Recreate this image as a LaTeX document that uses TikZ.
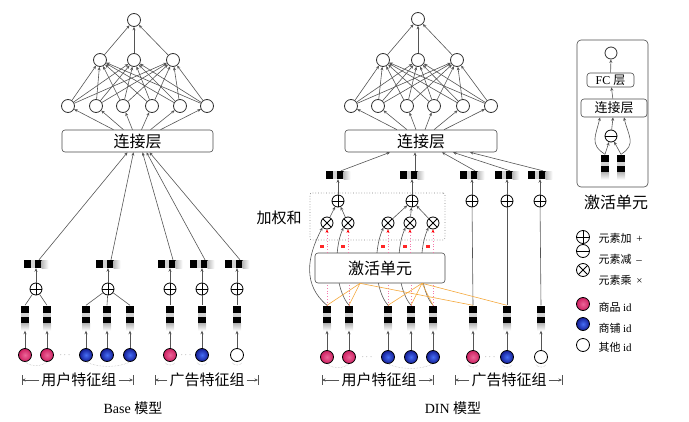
\documentclass[tikz,border=0pt]{standalone}
\usepackage{fontspec}
\setmainfont{Liberation Serif}
\newfontfamily\cjk{Noto Sans CJK SC}
\usetikzlibrary{arrows.meta,calc}
\definecolor{pinkc}{RGB}{228,36,108}
\definecolor{bluein}{RGB}{70,110,245}
\definecolor{blueout}{RGB}{20,30,150}
\definecolor{orangec}{RGB}{244,168,60}
\definecolor{pinkdot}{RGB}{245,120,170}
\definecolor{lnc}{RGB}{85,85,85}
\newcommand\zhf[1]{\cjk\fontsize{#1}{#1}\selectfont}
\begin{document}
\begin{tikzpicture}[x=1pt,y=-1pt,
  ln/.style={draw=lnc, line width=0.6pt},
  arr/.style={ln, -{Stealth[length=3.5pt,width=3pt]}},
  neuron/.style={circle, draw=black!80, line width=0.8pt, minimum size=13pt, inner sep=0pt, fill=white},
  layerbox/.style={rectangle, rounded corners=3pt, draw=black!70, line width=0.6pt, fill=white, inner sep=0pt},
  opbase/.style={circle, draw=black, line width=0.8pt, minimum size=12pt, inner sep=0pt, fill=white},
  oplus/.style={opbase, path picture={\draw[line width=0.8pt] (path picture bounding box.north) -- (path picture bounding box.south) (path picture bounding box.west) -- (path picture bounding box.east);}},
  ominus/.style={opbase, path picture={\draw[line width=0.8pt] (path picture bounding box.west) -- (path picture bounding box.east);}},
  otimes/.style={opbase, path picture={\draw[line width=0.8pt] (path picture bounding box.north west) -- (path picture bounding box.south east) (path picture bounding box.south west) -- (path picture bounding box.north east);}},
  ball/.style={circle, draw=black, line width=0.8pt, minimum size=13pt, inner sep=0pt},
  pinkball/.style={ball, shade, shading=radial, inner color=pinkc!70!white, outer color=pinkc!90!black},
  blueball/.style={ball, shade, shading=radial, inner color=bluein, outer color=blueout},
  whiteball/.style={ball, fill=white},
  hblk/.style={rectangle, minimum width=25pt, minimum height=8pt, inner sep=0pt, path picture={
    \fill[black] (path picture bounding box.south west) rectangle ++(7pt,8pt);
    \fill[gray!35] ([xshift=7pt]path picture bounding box.south west) rectangle ++(4pt,8pt);
    \fill[black] ([xshift=11pt]path picture bounding box.south west) rectangle ++(7pt,8pt);
    \shade[left color=gray!55, right color=white] ([xshift=18pt]path picture bounding box.south west) rectangle ++(7pt,8pt);}},
  vblk/.style={rectangle, minimum width=8pt, minimum height=25pt, inner sep=0pt, path picture={
    \fill[black] (path picture bounding box.north west) rectangle ++(8pt,-7pt);
    \fill[gray!35] ([yshift=-7pt]path picture bounding box.north west) rectangle ++(8pt,-4pt);
    \fill[black] ([yshift=-11pt]path picture bounding box.north west) rectangle ++(8pt,-7pt);
    \shade[top color=gray!55, bottom color=white] ([yshift=-18pt]path picture bounding box.north west) rectangle ++(8pt,-7pt);}},
  arcst/.style={draw=gray!60, line width=0.5pt, densely dotted},
  pdot/.style={draw=pinkdot, line width=0.8pt, dotted},
  orl/.style={draw=orangec, line width=0.6pt},
  wmark/.style={rectangle, fill=red!85, minimum width=4pt, minimum height=3pt, inner sep=0pt},
  lbl/.style={font=\zhf{15}, inner sep=2pt},
  dots/.style={font=\fontsize{9}{9}\selectfont, text=gray, inner sep=0pt}
]
\useasboundingbox (0,0) rectangle (689,421);

%================ Base model =================
\node[neuron] (bo) at (134,20) {};
\foreach \x [count=\i] in {100,134,173} \node[neuron] (bh2-\i) at (\x,60) {};
\foreach \x [count=\i] in {68,96,123,152,180,207} \node[neuron] (bh1-\i) at (\x,106) {};
\node[layerbox, minimum width=151pt, minimum height=22pt, font=\zhf{16}] (bbox) at (137.5,141) {连接层};
\foreach \i in {1,...,6}{\foreach \j in {1,2,3}{\draw[arr] (bh1-\i) -- (bh2-\j);}}
\foreach \j in {1,2,3} \draw[arr] (bh2-\j) -- (bo);
\foreach \i/\dx in {1/-24,2/-14,3/-5,4/4,5/13,6/23} \draw[arr] ([xshift=\dx pt]bbox.north) -- (bh1-\i);

\foreach \x [count=\i] in {36,108,170,202,237}{
  \node[oplus] (bp\i) at (\x,289) {};
  \node[hblk] (bt\i) at (\x,264) {};
  \draw[arr] (bp\i) -- (bt\i);
}
\foreach \i/\dx in {1/-10,2/-4,3/5,4/9,5/12} \draw[arr] ([xshift=3pt]bt\i.north) -- ([xshift=\dx pt]bbox.south);

\foreach \x/\s [count=\i] in {25/pinkball,47/pinkball,86/blueball,107/blueball,130/blueball,170/pinkball,202/blueball,237/whiteball}{
  \node[vblk] (bc\i) at (\x,318) {};
  \node[\s] (bi\i) at (\x,355) {};
  \draw[arr] (bi\i) -- (bc\i);
}
\foreach \p/\c in {1/1,1/2,2/3,2/4,2/5,3/6,4/7,5/8} \draw[ln] (bp\p) -- (bc\c.north);
\node[dots] (bd1) at (65,355) {$\cdots$};
\node[dots] (bd2) at (186,355) {$\cdots$};
\draw[arcst] (bi1.south) .. controls +(6,5) and +(-6,5) .. (bi2.south);
\draw[arcst] (bi3.south) .. controls +(12,6) and +(-12,6) .. (bi5.south);
\foreach \i in {6,7,8} \draw[arcst] ([xshift=-5pt,yshift=-1pt]bi\i.south) .. controls +(3,3) and +(-3,3) .. ([xshift=5pt,yshift=-1pt]bi\i.south);

\coordinate (bl1) at (22,380); \coordinate (br1) at (133,380);
\node[lbl] (bg1) at (79,380) {用户特征组};
\coordinate (bl2) at (155,380); \coordinate (br2) at (258,380);
\node[lbl] (bg2) at (207,380) {广告特征组};
\foreach \k in {1,2}{
  \draw[arr] (bg\k.west) -- (bl\k);
  \draw[arr] (bg\k.east) -- (br\k);
  \draw[ln] ([yshift=5pt]bl\k) -- ([yshift=-5pt]bl\k);
  \draw[ln] ([yshift=5pt]br\k) -- ([yshift=-5pt]br\k);
}
\node[font=\fontsize{14}{14}\selectfont] (btitle) at (133,408) {Base {\zhf{14}模型}};

%================ DIN model =================
\node[neuron] (do) at (418,19) {};
\foreach \x [count=\i] in {383,418,457} \node[neuron] (dh2-\i) at (\x,60) {};
\foreach \x [count=\i] in {351,378,407,434,463,491} \node[neuron] (dh1-\i) at (\x,106) {};
\node[layerbox, minimum width=152pt, minimum height=22pt, font=\zhf{16}] (dbox) at (421,141) {连接层};
\foreach \i in {1,...,6}{\foreach \j in {1,2,3}{\draw[arr] (dh1-\i) -- (dh2-\j);}}
\foreach \j in {1,2,3} \draw[arr] (dh2-\j) -- (do);
\foreach \i/\dx in {1/-24,2/-14,3/-5,4/4,5/13,6/23} \draw[arr] ([xshift=\dx pt]dbox.north) -- (dh1-\i);

\node[draw=gray, dotted, line width=0.7pt, rounded corners=2pt, minimum width=135pt, minimum height=47pt] (dwbox) at (377.5,216.5) {};
\node[font=\zhf{15}] (dwlbl) at (279,218) {加权和};

\foreach \x [count=\i] in {338,412,472,507,540}{
  \node[oplus] (dp\i) at (\x,201) {};
  \node[hblk] (dt\i) at (\x,175) {};
  \draw[arr] (dp\i) -- (dt\i);
}
\foreach \i/\dx in {1/-31,2/-6,3/21,4/32,5/49} \draw[arr] ([xshift=3pt]dt\i.north) -- ([xshift=\dx pt]dbox.south);

\foreach \x [count=\i] in {327,348,388,410,433} \node[otimes] (dm\i) at (\x,223) {};
\foreach \m/\p in {1/1,2/1,3/2,4/2,5/2} \draw[arr] (dm\m) -- (dp\p);

\foreach \x/\s [count=\i] in {327/pinkball,349/pinkball,388/blueball,411/blueball,433/blueball,473/pinkball,507/blueball,541/whiteball}{
  \node[vblk] (dc\i) at (\x,318) {};
  \node[\s] (di\i) at (\x,357) {};
  \draw[arr] (di\i) -- (dc\i);
}
\foreach \p/\c in {3/6,4/7,5/8} \draw[ln] (dp\p) -- (dc\c.north);

% curves from behaviour embeddings to the products
\draw[arr] (dc1.north) .. controls +(-24,-20) and +(-16,30) .. (dm1.south west);
\foreach \i in {2,3,4,5} \draw[arr] (dc\i.north) .. controls +(-14,-16) and +(-10,22) .. (dm\i.south west);

\node[layerbox, minimum width=130pt, minimum height=30pt, font=\zhf{16}] (dact) at (380,268) {激活单元};

\foreach \i in {1,...,5}{
  \draw[pdot] (dc\i.north) -- (dc\i.north |- dact.south);
  \draw[pdot, -{Stealth[length=3.5pt,width=3pt,color=red,fill=red]}] (dm\i.south |- dact.north) -- (dm\i.south);
  \node[wmark] (w\i) at ($(dm\i.south |- dact.north)+(-5,-6)$) {};
}
\coordinate (oa) at ([xshift=-20pt]dact.south);
\coordinate (ob) at ([xshift=42pt]dact.south);
\foreach \c in {1,2,6} \draw[orl] (oa) -- (dc\c.north);
\foreach \c in {3,4,5,7} \draw[orl] (ob) -- (dc\c.north);

\node[dots] (dd1) at (367,357) {$\cdots$};
\node[dots] (dd2) at (490,357) {$\cdots$};
\draw[arcst] (di1.south) .. controls +(6,5) and +(-6,5) .. (di2.south);
\draw[arcst] (di3.south) .. controls +(12,6) and +(-12,6) .. (di5.south);
\foreach \i in {6,7,8} \draw[arcst] ([xshift=-5pt,yshift=-1pt]di\i.south) .. controls +(3,3) and +(-3,3) .. ([xshift=5pt,yshift=-1pt]di\i.south);

\coordinate (dl1) at (322,380); \coordinate (dr1) at (433,380);
\node[lbl] (dg1) at (379,380) {用户特征组};
\coordinate (dl2) at (455,380); \coordinate (dr2) at (562,380);
\node[lbl] (dg2) at (509,380) {广告特征组};
\foreach \k in {1,2}{
  \draw[arr] (dg\k.west) -- (dl\k);
  \draw[arr] (dg\k.east) -- (dr\k);
  \draw[ln] ([yshift=5pt]dl\k) -- ([yshift=-5pt]dl\k);
  \draw[ln] ([yshift=5pt]dr\k) -- ([yshift=-5pt]dr\k);
}
\node[font=\fontsize{14}{14}\selectfont] (dtitle) at (453,408) {DIN {\zhf{14}模型}};

%================ Activation unit panel =================
\node[draw=black!70, line width=0.6pt, rounded corners=4pt, minimum width=71pt, minimum height=147pt] (apanel) at (612.5,113.5) {};
\node[neuron, minimum size=12pt] (ao) at (611,53) {};
\node[layerbox, minimum width=47pt, minimum height=14pt, font=\fontsize{12}{12}\selectfont] (afc) at (610.5,80) {FC {\zhf{12}层}};
\node[layerbox, minimum width=66pt, minimum height=18pt, font=\zhf{13}] (acat) at (614,108) {连接层};
\node[ominus] (am) at (611,136) {};
\node[vblk] (ac1) at (605,167) {};
\node[vblk] (ac2) at (621,167) {};
\draw[arr] (ac1.north) -- (am);
\draw[arr] (ac2.north) -- (am);
\draw[arr] (ac1.north) .. controls +(-16,-10) and +(-4,18) .. ([xshift=-14pt]acat.south);
\draw[arr] (ac2.north) .. controls +(16,-10) and +(4,18) .. ([xshift=10pt]acat.south);
\draw[arr] (am) -- (acat);
\draw[arr] (acat) -- (afc);
\draw[arr] (afc) -- (ao);
\node[font=\zhf{16}] (atitle) at (616,202) {激活单元};

%================ Legend =================
\node[oplus, minimum size=13pt] (lg1) at (583,237) {};
\node[anchor=west, font=\zhf{11}] (lt1) at (595,238) {元素加\ \ \textrm{+}};
\node[ominus, minimum size=13pt] (lg2) at (583,251) {};
\node[anchor=west, font=\zhf{11}] (lt2) at (595,259) {元素减\ \ \textrm{–}};
\node[otimes, minimum size=13pt] (lg3) at (583,270) {};
\node[anchor=west, font=\zhf{11}] (lt3) at (595,280) {元素乘\ \ \textrm{×}};
\node[pinkball] (lg4) at (583,304) {};
\node[anchor=west, font=\zhf{11}] (lt4) at (595,307) {商品 \textrm{id}};
\node[blueball] (lg5) at (583,324) {};
\node[anchor=west, font=\zhf{11}] (lt5) at (595,328) {商铺 \textrm{id}};
\node[whiteball] (lg6) at (583,345) {};
\node[anchor=west, font=\zhf{11}] (lt6) at (595,347) {其他 \textrm{id}};
\end{tikzpicture}
\end{document}
